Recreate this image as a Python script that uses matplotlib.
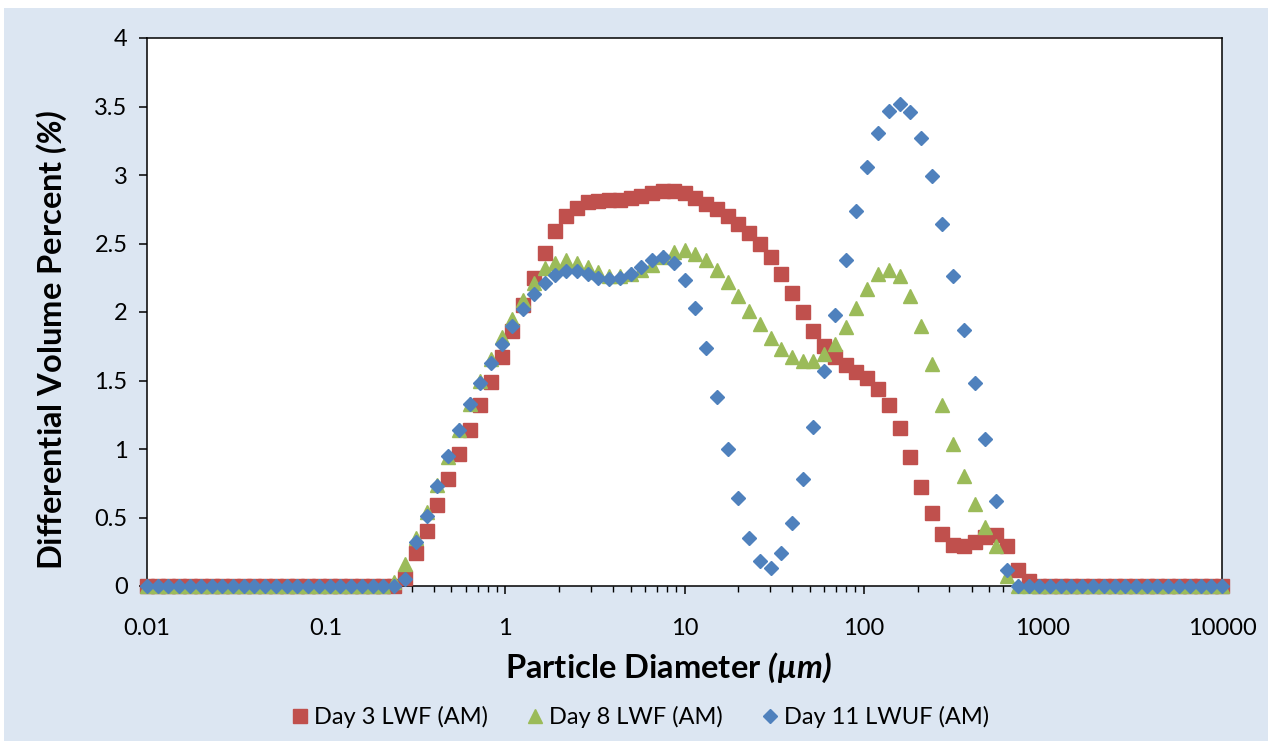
import matplotlib
matplotlib.use('Agg')
import matplotlib.pyplot as plt
from matplotlib.ticker import FuncFormatter, LogLocator, MultipleLocator, NullFormatter
from matplotlib.patches import Rectangle

plt.rcParams['font.family'] = ['Lato', 'DejaVu Sans']
plt.rcParams['mathtext.fontset'] = 'custom'
plt.rcParams['mathtext.rm'] = 'Lato'
plt.rcParams['mathtext.it'] = 'Lato:italic'
plt.rcParams['mathtext.bf'] = 'Lato:bold'
plt.rcParams['mathtext.bfit'] = 'Lato:italic:bold'

# particle size classes (um)
diametro = [
    0.01, 0.01148, 0.01318, 0.01514, 0.01738, 0.01995, 0.02291, 0.0263, 0.0302, 0.03467,
    0.03981, 0.04571, 0.05248, 0.06026, 0.06918, 0.07943, 0.0912, 0.1047, 0.1202, 0.138,
    0.1585, 0.182, 0.2089, 0.2399, 0.2754, 0.3162, 0.3631, 0.4169, 0.4786, 0.5495,
    0.631, 0.7244, 0.8318, 0.955, 1.096, 1.259, 1.445, 1.66, 1.905, 2.188,
    2.512, 2.884, 3.311, 3.802, 4.365, 5.012, 5.754, 6.607, 7.586, 8.71,
    10.0, 11.48, 13.18, 15.14, 17.38, 19.95, 22.91, 26.3, 30.2, 34.67,
    39.81, 45.71, 52.48, 60.26, 69.18, 79.43, 91.2, 104.7, 120.2, 138.0,
    158.5, 182.0, 208.9, 239.9, 275.4, 316.2, 363.1, 416.9, 478.6, 549.5,
    631.0, 724.4, 831.8, 955.0, 1096, 1259, 1445, 1660, 1905, 2188,
    2512, 2884, 3311, 3802, 4365, 5012, 5754, 6607, 7586, 8710,
    10000]

dia3 = [
    0, 0, 0, 0, 0, 0, 0, 0, 0, 0,
    0, 0, 0, 0, 0, 0, 0, 0, 0, 0,
    0, 0, 0, 0, 0.06, 0.24, 0.40, 0.59, 0.78, 0.96,
    1.14, 1.32, 1.49, 1.67, 1.86, 2.05, 2.25, 2.43, 2.59, 2.70,
    2.76, 2.80, 2.81, 2.82, 2.82, 2.83, 2.85, 2.87, 2.88, 2.88,
    2.87, 2.83, 2.79, 2.75, 2.70, 2.64, 2.58, 2.50, 2.40, 2.28,
    2.14, 2.00, 1.86, 1.75, 1.67, 1.61, 1.56, 1.52, 1.44, 1.32,
    1.15, 0.94, 0.72, 0.53, 0.38, 0.30, 0.29, 0.32, 0.36, 0.37,
    0.29, 0.12, 0.04, 0, 0, 0, 0, 0, 0, 0,
    0, 0, 0, 0, 0, 0, 0, 0, 0, 0,
    0]

dia8 = [
    0, 0, 0, 0, 0, 0, 0, 0, 0, 0,
    0, 0, 0, 0, 0, 0, 0, 0, 0, 0,
    0, 0, 0, 0.03, 0.16, 0.35, 0.54, 0.74, 0.94, 1.14,
    1.33, 1.50, 1.66, 1.82, 1.95, 2.09, 2.21, 2.32, 2.36, 2.38,
    2.36, 2.33, 2.29, 2.26, 2.26, 2.28, 2.31, 2.34, 2.40, 2.44,
    2.45, 2.42, 2.38, 2.31, 2.22, 2.12, 2.01, 1.91, 1.81, 1.73,
    1.67, 1.64, 1.64, 1.69, 1.77, 1.89, 2.03, 2.17, 2.28, 2.31,
    2.26, 2.12, 1.90, 1.62, 1.32, 1.04, 0.80, 0.60, 0.43, 0.29,
    0.07, 0, 0, 0, 0, 0, 0, 0, 0, 0,
    0, 0, 0, 0, 0, 0, 0, 0, 0, 0,
    0]

dia11 = [
    0, 0, 0, 0, 0, 0, 0, 0, 0, 0,
    0, 0, 0, 0, 0, 0, 0, 0, 0, 0,
    0, 0, 0, 0, 0.05, 0.32, 0.51, 0.73, 0.95, 1.14,
    1.33, 1.48, 1.63, 1.77, 1.90, 2.02, 2.13, 2.21, 2.27, 2.30,
    2.30, 2.28, 2.25, 2.24, 2.25, 2.28, 2.33, 2.38, 2.40, 2.36,
    2.23, 2.03, 1.74, 1.38, 1.00, 0.64, 0.35, 0.18, 0.13, 0.24,
    0.46, 0.78, 1.16, 1.57, 1.98, 2.38, 2.74, 3.06, 3.31, 3.47,
    3.52, 3.46, 3.27, 2.99, 2.64, 2.26, 1.87, 1.48, 1.07, 0.62,
    0.12, 0, 0, 0, 0, 0, 0, 0, 0, 0,
    0, 0, 0, 0, 0, 0, 0, 0, 0, 0,
    0]

series = ['Day 3 LWF (AM)', 'Day 8 LWF (AM)', 'Day 11 LWUF (AM)']
colores = ['#C0504D', '#9BBB59', '#4F81BD']
x_ticks = [0.01, 0.1, 1, 10, 100, 1000, 10000]

fig = plt.figure(figsize=(12.72, 7.45), dpi=100, facecolor='white')
fig.patches.append(Rectangle((4/1272, 4/745), 1264/1272, 733/745, transform=fig.transFigure,
                             facecolor='#DCE6F2', edgecolor='none', zorder=-10))
ax = fig.add_axes([147/1272, 1 - 586/745, 1075/1272, 548/745])
ax.set_facecolor('white')

ax.plot(diametro, dia3, 's', ms=9.6, color=colores[0], label=series[0], clip_on=False, zorder=3)
ax.plot(diametro, dia8, '^', ms=10, color=colores[1], label=series[1], clip_on=False, zorder=4)
ax.plot(diametro, dia11, 'D', ms=7.2, color=colores[2], label=series[2], clip_on=False, zorder=5)

ax.set_xscale('log')
ax.set_xlim(0.01, 10000)
ax.set_ylim(0, 4)
ax.yaxis.set_major_locator(MultipleLocator(0.5))
ax.set_xticks(x_ticks)
ax.xaxis.set_minor_locator(LogLocator(base=10, subs=range(2, 10), numticks=20))
fmt = FuncFormatter(lambda v, p: '{:g}'.format(v))
ax.xaxis.set_major_formatter(fmt)
ax.yaxis.set_major_formatter(fmt)
ax.xaxis.set_minor_formatter(NullFormatter())

for s in ax.spines.values():
    s.set_linewidth(1.1)
ax.tick_params(axis='both', which='major', direction='out', length=6, width=1.1, labelsize=17)
ax.tick_params(axis='x', which='minor', direction='out', length=4, width=1.0)
ax.tick_params(axis='x', which='major', pad=17)
ax.tick_params(axis='y', which='major', pad=8)

ax.set_xlabel(r'Particle Diameter $\mathbfit{(µm)}$', fontsize=23.5, fontweight='bold')
ax.set_ylabel(r'Differential Volume Percent $\mathbfit{(\%)}$', fontsize=23.5, fontweight='bold')
ax.xaxis.set_label_coords((668 - 147) / 1075, -(668 - 586) / 548)
ax.yaxis.set_label_coords(-(147 - 52) / 1075, (586 - 340) / 548)
ax.xaxis.label.set_va('center')
ax.yaxis.label.set_va('center')

fig.legend(loc='center', bbox_to_anchor=(0.503, 1 - 717/745), ncol=3, frameon=False,
           fontsize=17, handletextpad=0.2, columnspacing=1.6, handlelength=0.8, markerscale=1.0)

fig.savefig('out.png', dpi=100, facecolor=fig.get_facecolor())
